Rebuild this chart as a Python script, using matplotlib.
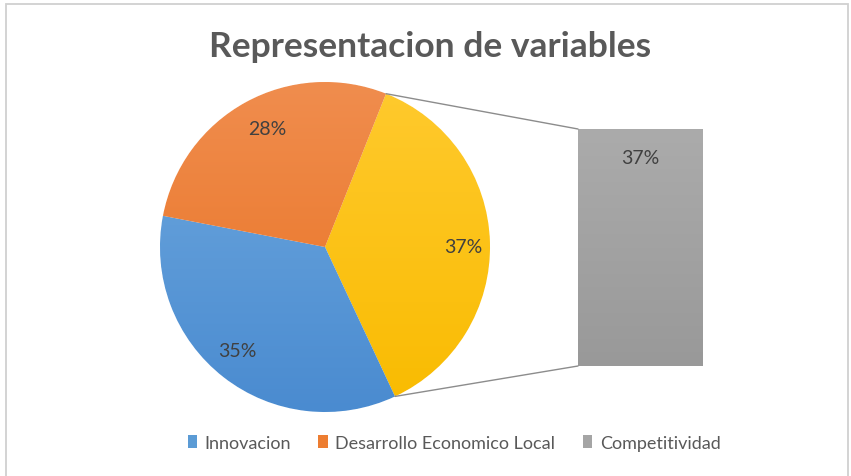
import numpy as np
import matplotlib.pyplot as plt
from matplotlib.patches import Patch, Rectangle, ConnectionPatch
from matplotlib.colors import LinearSegmentedColormap

plt.rcParams['font.family'] = ['Lato', 'DejaVu Sans']

# data
categories = ["Innovacion", "Desarrollo Economico Local", "Competitividad"]
values = [35, 28, 37]
colors = ["#5B9BD5", "#ED7D31", "#A5A5A5"]
# pie of bar: the last category goes into the "other" slice
other_label = "37%"
title = "Representacion de variables"

# gradients (top, bottom) for each slice
grad_other = ("#FFCA2E", "#F9BB00")
grad = {"Innovacion": ("#6FA9DF", "#4A8BD0"),
        "Desarrollo Economico Local": ("#F08D4E", "#E8701F")}

fig = plt.figure(figsize=(8.51, 4.77), dpi=100)
W, H = 851, 477

# outer frame of the chart, cut at the bottom
fig.patches.append(Rectangle((6 / W, -0.05), 842 / W, 1.05 - 5 / H,
                             transform=fig.transFigure, fill=False,
                             edgecolor="#d0d0d0", linewidth=1.3))

fig.text(430 / W, 1 - 47 / H, title, fontsize=25.5, fontweight="bold",
         color="#595959", ha="center", va="center")

# pie
r = 165
cx, cy = 325, 248
ax = fig.add_axes([(cx - r) / W, 1 - (cy + r) / H, 2 * r / W, 2 * r / H])
pie_vals = [values[2], values[0], values[1]]
wedges, texts = ax.pie(pie_vals, startangle=68.3, counterclock=False,
                       colors=["#FFC000", colors[0], colors[1]],
                       wedgeprops=dict(linewidth=0.8, edgecolor="white"))
ax.set_xlim(-1, 1)
ax.set_ylim(-1, 1)
ax.set_aspect("equal")
ax.axis("off")

grads = [grad_other, grad[categories[0]], grad[categories[1]]]
for w, (top, bot) in zip(wedges, grads):
    cmap = LinearSegmentedColormap.from_list("g", [bot, top])
    img = ax.imshow(np.linspace(0, 1, 256).reshape(-1, 1), cmap=cmap,
                    extent=(-1, 1, -1, 1), origin="lower", aspect="auto",
                    zorder=w.get_zorder() + 0.1)
    img.set_clip_path(w)

# labels on slices
label_pos = [(0.84, 0.0), (-0.53, -0.63), (-0.35, 0.72)]
for (x, y), v in zip(label_pos, pie_vals):
    ax.text(x, y, f"{v}%", fontsize=14, color="#404040",
            ha="center", va="center", zorder=5)

# bar
bx0, bx1, by0, by1 = 578, 703, 130, 367
axb = fig.add_axes([bx0 / W, 1 - by1 / H, (bx1 - bx0) / W, (by1 - by0) / H])
cmap_bar = LinearSegmentedColormap.from_list("b", ["#999999", "#ABABAB"])
bar = axb.bar([0], [values[2]], width=1, color=colors[2])[0]
axb.set_xlim(-0.5, 0.5)
axb.set_ylim(0, values[2])
axb.axis("off")
bimg = axb.imshow(np.linspace(0, 1, 256).reshape(-1, 1), cmap=cmap_bar,
                  extent=(-0.5, 0.5, 0, values[2]), origin="lower",
                  aspect="auto", zorder=3)
bimg.set_clip_path(bar)
axb.text(0, values[2] * 0.88, other_label, fontsize=14, color="#404040",
         ha="center", va="center", zorder=5)

# connector lines from the "other" slice to the bar
w0 = wedges[0]
for ang, yb in [(w0.theta2, values[2]), (w0.theta1, 0)]:
    t = np.deg2rad(ang)
    con = ConnectionPatch(xyA=(np.cos(t), np.sin(t)), coordsA=ax.transData,
                          xyB=(-0.5, yb), coordsB=axb.transData,
                          color="#8c8c8c", linewidth=1.0)
    fig.add_artist(con)

handles = [Patch(facecolor=c, edgecolor="none") for c in colors]
fig.legend(handles, categories, loc="center", ncol=3,
           bbox_to_anchor=(454 / W, 1 - 444 / H), frameon=False,
           fontsize=13, labelcolor="#595959", handlelength=0.55,
           handleheight=0.7, handletextpad=0.4, columnspacing=1.5)

fig.savefig("out.png", dpi=100)
